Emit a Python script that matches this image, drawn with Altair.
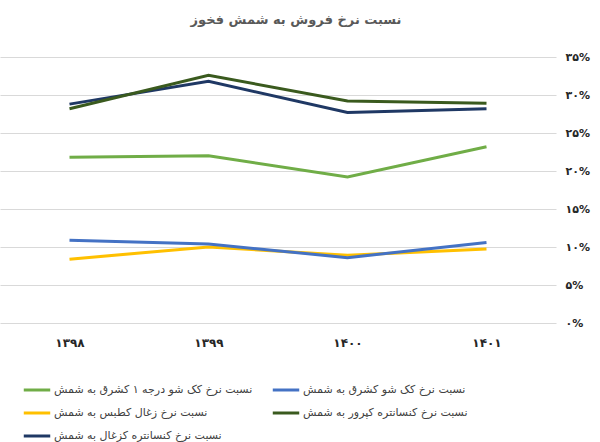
import altair as alt
import pandas as pd

years = ["۱۳۹۸", "۱۳۹۹", "۱۴۰۰", "۱۴۰۱"]
series = [
    "نسبت نرخ کک شو درجه ۱ کشرق به شمش",
    "نسبت نرخ زغال  کطبس به شمش",
    "نسبت نرخ کنسانتره کزغال به شمش",
    "نسبت نرخ کک شو  کشرق به شمش",
    "نسبت نرخ کنسانتره  کپرور به شمش",
]
colors = ["#70AD47", "#FFC000", "#1F3864", "#4472C4", "#3A5A1E"]
values = [
    [21.8, 22.0, 19.2, 23.2],
    [8.4, 10.0, 8.9, 9.75],
    [28.8, 31.8, 27.7, 28.2],
    [10.9, 10.4, 8.6, 10.6],
    [28.2, 32.6, 29.2, 28.9],
]
draw_order = [0, 4, 2, 3, 1]
y_ticks = [0, 5, 10, 15, 20, 25, 30, 35]
y_tick_labels = ["۰%", "۵%", "۱۰%", "۱۵%", "۲۰%", "۲۵%", "۳۰%", "۳۵%"]

rows = []
for si, s in enumerate(series):
    for yi, yr in enumerate(years):
        rows.append({"year": yr, "series": s, "value": values[si][yi], "order": draw_order[si]})
df = pd.DataFrame(rows)

label_expr = "[" + ",".join("'%s'" % t for t in y_tick_labels) + "][datum.value/5]"

chart = alt.Chart(df).mark_line(strokeWidth=3).encode(
    x=alt.X("year:O", sort=years, title=None,
            scale=alt.Scale(paddingInner=0, paddingOuter=0.5),
            axis=alt.Axis(labelAngle=0, domain=False, ticks=False, labelPadding=14,
                          labelFontSize=12, labelFontWeight="bold", labelColor="#262626",
                          labelFont="DejaVu Sans")),
    y=alt.Y("value:Q", title=None,
            scale=alt.Scale(domain=[0, 35], nice=False),
            axis=alt.Axis(orient="right", values=y_ticks, labelExpr=label_expr,
                          domain=False, ticks=False, labelPadding=9,
                          gridColor="#D9D9D9", gridWidth=1.2,
                          labelFontSize=11, labelFontWeight="bold", labelColor="#262626",
                          labelFont="DejaVu Sans")),
    color=alt.Color("series:N", sort=series,
                    scale=alt.Scale(domain=series, range=colors),
                    legend=alt.Legend(title=None, orient="none", legendX=22, legendY=318,
                                      columns=2, columnPadding=13, rowPadding=2,
                                      symbolType="stroke", symbolStrokeWidth=3,
                                      symbolSize=700, labelOffset=2,
                                      labelFontSize=11, labelColor="#404040",
                                      labelFont="DejaVu Sans", labelLimit=300)),
    order=alt.Order("order:Q"),
    detail="series:N",
).properties(
    width=556, height=266,
    title=alt.TitleParams("نسبت نرخ فروش به شمش فخوز", fontSize=13, fontWeight="bold",
                          color="#595959", anchor="middle", dx=18, offset=24,
                          font="DejaVu Sans"),
    padding={"left": 0, "top": 57, "right": 44, "bottom": 119},
    autosize=alt.AutoSizeParams(type="none"),
).configure_view(stroke=None)

chart.save("out.html", embed_options={"renderer": "svg", "actions": False})
